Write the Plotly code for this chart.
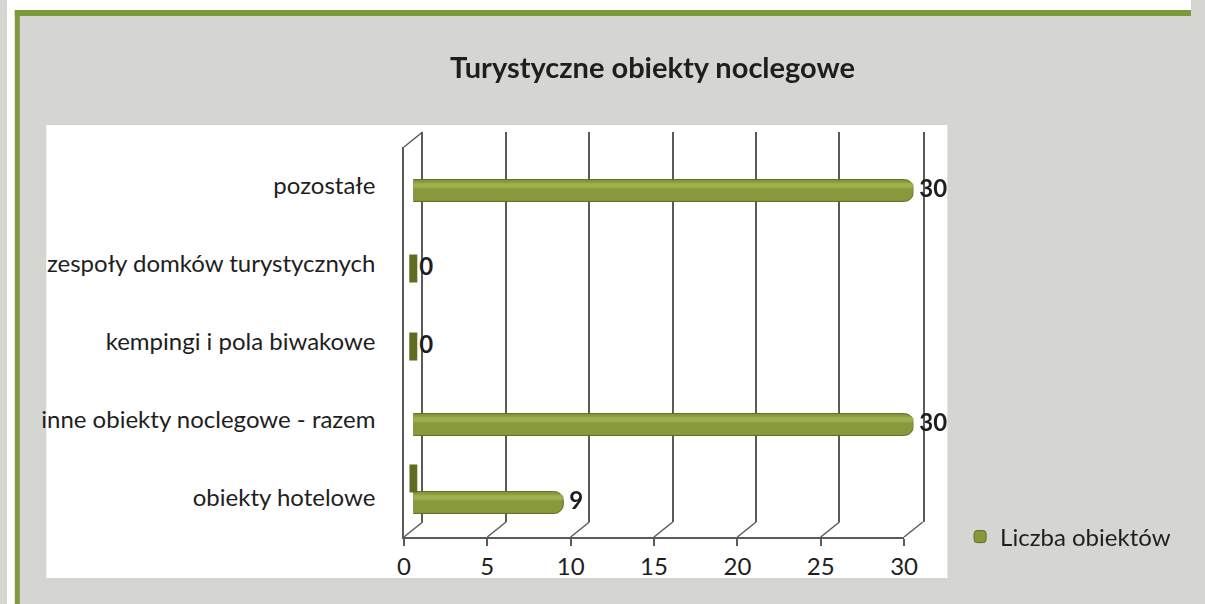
import plotly.graph_objects as go

# ---------------- data ----------------
categories = ["obiekty hotelowe", "inne obiekty noclegowe - razem",
              "kempingi i pola biwakowe", "zespoły domków turystycznych", "pozostałe"]
liczba_obiektow = [9, 30, 0, 0, 30]
seria_ukryta = [0, None, None, None, None]   # second (unlabelled) series, only a zero for hotels
x_ticks = [0, 5, 10, 15, 20, 25, 30]
title_text = "Turystyczne obiekty noclegowe"
legend_name = "Liczba obiektów"

# ---------------- geometry helpers (pixels -> paper) ----------------
W, H = 1205, 604
def px(x): return x / W
def py(y): return 1 - y / H

FX0, FX1, FYT, FYB = 404, 913, 147, 537      # front plane
DX, DY = 19, -15                              # depth offset of back wall
BX0, BX1, BYT, BYB = FX0 + DX, FX1 + DX, FYT + DY, FYB + DY
MX0, MX1, MYT, MYB = FX0 + DX / 2, FX1 + DX / 2, FYT + DY / 2, FYB + DY / 2

FONT = "Lato, 'Open Sans', sans-serif"
GRID = "#5a5a5a"
BAR = "#87993a"
BAR_DARK = "#5f6c22"
BAR_LIGHT = "#a3b455"

idx = list(range(len(categories)))
slot = 0.154
bw = 0.28

fig = go.Figure()

# front plane (axes only) and back wall (gridlines only)
fig.add_trace(go.Scatter(x=[None], y=[None], xaxis="x", yaxis="y", showlegend=False, hoverinfo="skip"))
fig.add_trace(go.Scatter(x=[None], y=[None], xaxis="x2", yaxis="y2", showlegend=False, hoverinfo="skip"))

# main bars (middle depth plane)
fig.add_trace(go.Bar(
    orientation="h", x=liczba_obiektow, y=idx, xaxis="x3", yaxis="y3",
    width=bw, offset=-slot - bw / 2, name=legend_name,
    marker=dict(color=BAR, line=dict(color=BAR_DARK, width=1), cornerradius=9),
    showlegend=True, hoverinfo="x+name"))
# highlight band to suggest a cylinder
fig.add_trace(go.Bar(
    orientation="h", x=liczba_obiektow, y=idx, xaxis="x3", yaxis="y3",
    width=0.07, offset=-slot + 0.03, marker=dict(color=BAR_LIGHT, line=dict(width=0), cornerradius=3),
    showlegend=False, hoverinfo="skip", opacity=0.8))

# zero-length cylinders shown as end caps
cap_x, cap_y = [], []
for i, v in enumerate(liczba_obiektow):
    if v == 0:
        cap_x.append(v); cap_y.append(i - slot)
for i, v in enumerate(seria_ukryta):
    if v is not None:
        cap_x.append(v); cap_y.append(i + slot)
fig.add_trace(go.Scatter(
    x=cap_x, y=cap_y, xaxis="x3", yaxis="y3", mode="markers",
    marker=dict(symbol="line-ns", size=20, line=dict(color=BAR_DARK, width=8)),
    showlegend=False, hoverinfo="skip", cliponaxis=False))

# data labels
fig.add_trace(go.Scatter(
    x=liczba_obiektow, y=[i - slot for i in idx], xaxis="x3", yaxis="y3",
    mode="text", text=[" " + str(v) for v in liczba_obiektow], textposition="middle right",
    textfont=dict(family=FONT, size=24, color="#1e1e1e", weight="bold"),
    showlegend=False, hoverinfo="skip", cliponaxis=False))

# ---------------- shapes ----------------
shapes = [
    dict(type="rect", xref="paper", yref="paper", x0=0, x1=1, y0=py(10), y1=1,
         fillcolor="white", line=dict(width=0), layer="below"),
    dict(type="rect", xref="paper", yref="paper", x0=0, x1=px(8), y0=0, y1=1,
         fillcolor="white", line=dict(width=0), layer="below"),
    dict(type="rect", xref="paper", yref="paper", x0=px(8), x1=1, y0=py(16), y1=py(10),
         fillcolor="#7c9a3a", line=dict(width=0), layer="below"),
    dict(type="rect", xref="paper", yref="paper", x0=px(8), x1=px(13), y0=0, y1=py(10),
         fillcolor="#7c9a3a", line=dict(width=0), layer="below"),
    dict(type="rect", xref="paper", yref="paper", x0=px(40), x1=px(957), y0=py(578), y1=py(125),
         fillcolor="white", line=dict(width=0), layer="below"),
    # top edge of the left wall
    dict(type="line", xref="paper", yref="paper", x0=px(FX0), y0=py(FYT), x1=px(BX0), y1=py(BYT),
         line=dict(color=GRID, width=1.5)),
]
for t in x_ticks:
    f = (t - x_ticks[0]) / (x_ticks[-1] - x_ticks[0])
    shapes.append(dict(type="line", xref="paper", yref="paper",
                       x0=px(FX0 + f * (FX1 - FX0)), y0=py(FYB),
                       x1=px(BX0 + f * (BX1 - BX0)), y1=py(BYB),
                       line=dict(color=GRID, width=1.5)))

fig.update_layout(
    width=W, height=H, autosize=False, margin=dict(l=0, r=0, t=0, b=0),
    paper_bgcolor="#d5d5d1", plot_bgcolor="rgba(0,0,0,0)",
    barmode="overlay",
    title=dict(text=title_text, x=px(657), y=py(68), xanchor="center", yanchor="middle",
               xref="paper", yref="paper",
               font=dict(family=FONT, size=29, color="#1e1e1e", weight="bold")),
    font=dict(family=FONT, color="#1e1e1e"),
    shapes=shapes,
    xaxis=dict(domain=[px(FX0), px(FX1)], range=[x_ticks[0], x_ticks[-1]], anchor="y",
               showline=True, linecolor=GRID, linewidth=1.5, ticks="outside", ticklen=7,
               tickcolor=GRID, tickwidth=1.5, tickvals=x_ticks, showgrid=False, zeroline=False,
               tickfont=dict(size=24, family=FONT, color="#1e1e1e"), fixedrange=True),
    yaxis=dict(domain=[py(FYB), py(FYT)], range=[-0.5, len(categories) - 0.5], anchor="x",
               showline=True, linecolor=GRID, linewidth=1.5, tickvals=idx, ticktext=categories,
               ticks="", ticklabelstandoff=22, showgrid=False, zeroline=False,
               tickfont=dict(size=24, family=FONT, color="#1e1e1e"), fixedrange=True),
    xaxis2=dict(domain=[px(BX0), px(BX1)], range=[x_ticks[0], x_ticks[-1]], anchor="y2",
                tickvals=x_ticks, showticklabels=False, showgrid=True, gridcolor=GRID, gridwidth=1.5,
                zeroline=False, showline=False, fixedrange=True),
    yaxis2=dict(domain=[py(BYB), py(BYT)], range=[-0.5, len(categories) - 0.5], anchor="x2",
                showline=True, mirror=True, linecolor=GRID, linewidth=1.5, showticklabels=False,
                showgrid=False, zeroline=False, ticks="", fixedrange=True),
    xaxis3=dict(domain=[px(MX0), px(MX1)], range=[x_ticks[0], x_ticks[-1]], anchor="y3",
                visible=False, fixedrange=True),
    yaxis3=dict(domain=[py(MYB), py(MYT)], range=[-0.5, len(categories) - 0.5], anchor="x3",
                visible=False, fixedrange=True),
    legend=dict(x=px(970), y=py(537), xanchor="left", yanchor="middle", bgcolor="rgba(0,0,0,0)",
                font=dict(family=FONT, size=24, color="#1e1e1e"), itemwidth=30),
    showlegend=True,
)

fig.write_html(
    "out.html",
    config={"displayModeBar": False, "responsive": False},
    post_script=("document.documentElement.style.margin='0';"
                 "document.body.style.margin='0';"
                 "document.documentElement.style.overflow='hidden';"
                 "document.body.style.overflow='hidden';"
                 "Plotly.relayout('{plot_id}', {width: %d, height: %d, autosize: false});" % (W, H)),
)
